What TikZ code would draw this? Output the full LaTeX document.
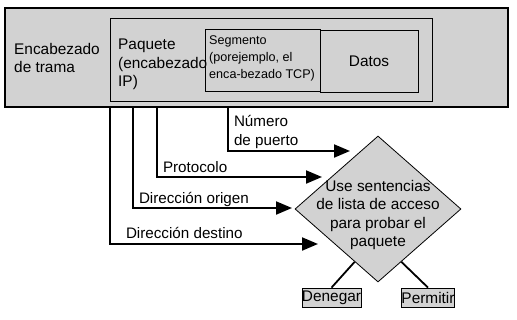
\documentclass[tikz,border=0pt]{standalone}
\usepackage{fontspec}
\setmainfont{Liberation Sans}
\usetikzlibrary{arrows.meta,shapes.geometric,calc}
\definecolor{boxgray}{RGB}{210,210,210}

\begin{document}
\begin{tikzpicture}[x=1pt, y=-1pt,
    box/.style={draw=black, fill=boxgray, inner sep=0pt},
    plain/.style={draw=black, inner sep=0pt},
    txt/.style={font=\fontsize{15.4}{18.6}\selectfont, align=left, inner sep=0pt},
    small/.style={font=\fontsize{12.6}{16.5}\selectfont, align=left, inner sep=0pt},
    flow/.style={line width=2pt, -{Triangle[length=16pt, width=13pt]}},
    lbl/.style={anchor=south west, inner sep=1pt, align=left, font=\fontsize{15.2}{18.4}\selectfont}]

    \useasboundingbox (0,0) rectangle (517,319);

    % Frame with the packet, segment and data nested inside
    \node[box, line width=1.2pt, minimum width=503pt, minimum height=99pt] (frame) at (256.5,57.5) {};
    \node[plain, line width=0.8pt, minimum width=322pt, minimum height=83pt] (packet) at (271,59.5) {};
    \node[plain, line width=0.8pt, minimum width=115pt, minimum height=62pt] (segment) at (262.5,60) {};
    \node[plain, line width=0.8pt, minimum width=98pt, minimum height=62pt, txt] (data) at (369,61) {Datos};
    \node[txt, anchor=north west] (frametext) at (14,43) {Encabezado\\de trama};
    \node[txt, anchor=north west] (packettext) at (118,39) {Paquete\\(encabezado\\IP)};
    \node[small, anchor=north west] (segmenttext) at (209,36) {Segmento\\(porejemplo, el\\enca-bezado TCP)};

    % Decision and its two outcomes
    \node[box, line width=0.8pt, shape=diamond, minimum width=166pt, minimum height=146pt] (decision) at (378,209) {};
    \node[txt, align=center] (decisiontext) at (378,215) {Use sentencias\\de lista de acceso\\para probar el\\paquete};
    \node[box, line width=0.8pt, minimum width=53pt, minimum height=19pt, txt] (deny) at (331.5,297.5) {Denegar};
    \node[box, line width=0.8pt, minimum width=52pt, minimum height=19pt, txt] (permit) at (428,297.5) {Permitir};
    \draw[line width=1.8pt] ($(decision.south)!0.28!(decision.west)$) -- (deny.north);
    \draw[line width=1.8pt] ($(decision.south)!0.28!(decision.east)$) -- (permit.north);

    % Fields taken from the frame
    \coordinate (outport) at (228,107);
    \coordinate (outproto) at (157,107);
    \coordinate (outsrc) at (133,107);
    \coordinate (outdst) at (110,107);
    \coordinate (tipport) at (350,151);
    \coordinate (tipproto) at (322,177);
    \coordinate (tipsrc) at (292,208);
    \coordinate (tipdst) at (318,244);
    \draw[flow] (outport) |- node[lbl, pos=0.5, xshift=4pt, yshift=0.5pt] {Número\\de puerto} (tipport);
    \draw[flow] (outproto) |- node[lbl, pos=0.5, xshift=4pt, yshift=2pt] {Protocolo} (tipproto);
    \draw[flow] (outsrc) |- node[lbl, pos=0.5, xshift=4pt, yshift=-0.5pt] {Dirección origen} (tipsrc);
    \draw[flow] (outdst) |- node[lbl, pos=0.5, xshift=14pt, yshift=3pt] {Dirección destino} (tipdst);

\end{tikzpicture}
\end{document}
